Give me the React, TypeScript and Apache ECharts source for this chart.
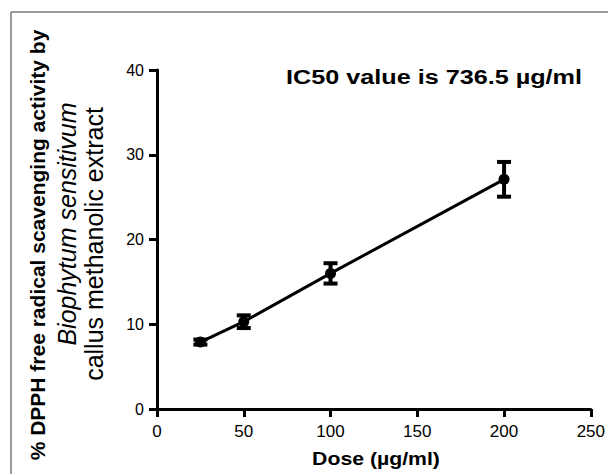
import React, { useEffect, useRef } from "react";
import * as echarts from "echarts";

const doses = [25, 50, 100, 200];
const activity = [7.9, 10.3, 16.0, 27.1];
const errors = [0.3, 0.75, 1.2, 2.05];
const xTicks = [0, 50, 100, 150, 200, 250];
const yTicks = [0, 10, 20, 30, 40];

const FONT = "Liberation Sans, Arial, Helvetica, sans-serif";

export default function App() {
  const ref = useRef<HTMLDivElement>(null);
  useEffect(() => {
    if (!ref.current) return;
    const chart = echarts.init(ref.current, undefined, { renderer: "svg" });
    const points = doses.map((d, i) => [d, activity[i]]);
    const errData = doses.map((d, i) => [d, activity[i] - errors[i], activity[i] + errors[i]]);
    chart.setOption({
      animation: false,
      backgroundColor: "#ffffff",
      grid: { left: 157, right: 16, top: 70, bottom: 65 },
      xAxis: {
        type: "value",
        min: xTicks[0],
        max: xTicks[xTicks.length - 1],
        interval: 50,
        axisLine: { lineStyle: { color: "#000", width: 3 } },
        axisTick: { show: true, length: 8, lineStyle: { color: "#000", width: 3 } },
        axisLabel: { color: "#000", fontSize: 17, fontFamily: FONT, margin: 14 },
        splitLine: { show: false },
      },
      yAxis: {
        type: "value",
        min: yTicks[0],
        max: yTicks[yTicks.length - 1],
        interval: 10,
        axisLine: { show: true, lineStyle: { color: "#000", width: 3 } },
        axisTick: { show: true, length: 8, lineStyle: { color: "#000", width: 3 } },
        axisLabel: { color: "#000", fontSize: 16, fontFamily: FONT, margin: 13 },
        splitLine: { show: false },
      },
      series: [
        {
          type: "line",
          data: points,
          symbol: "circle",
          symbolSize: 11,
          itemStyle: { color: "#000" },
          lineStyle: { color: "#000", width: 3 },
          z: 3,
        },
        {
          type: "custom",
          data: errData,
          z: 4,
          renderItem: (params: any, api: any) => {
            const x = api.value(0);
            const lo = api.coord([x, api.value(1)]);
            const hi = api.coord([x, api.value(2)]);
            const hw = 7;
            const st = { stroke: "#000", lineWidth: 4 };
            return {
              type: "group",
              children: [
                { type: "line", shape: { x1: lo[0], y1: lo[1], x2: hi[0], y2: hi[1] }, style: st },
                { type: "line", shape: { x1: lo[0] - hw, y1: lo[1], x2: lo[0] + hw, y2: lo[1] }, style: st },
                { type: "line", shape: { x1: hi[0] - hw, y1: hi[1], x2: hi[0] + hw, y2: hi[1] }, style: st },
              ],
            };
          },
        },
      ],
      graphic: [
        { type: "line", shape: { x1: 11, y1: 12, x2: 608, y2: 12 }, style: { stroke: "#7a7a7a", lineWidth: 1.5 } },
        { type: "line", shape: { x1: 11, y1: 12, x2: 11, y2: 474 }, style: { stroke: "#7a7a7a", lineWidth: 1.5 } },
        {
          type: "text",
          x: 434,
          y: 77,
          scaleX: 1.2,
          style: {
            text: "IC50 value is 736.5 µg/ml",
            font: `bold 21px ${FONT}`,
            fill: "#000",
            align: "center",
            verticalAlign: "middle",
          },
        },
        {
          type: "text",
          x: 376,
          y: 459,
          scaleX: 1.18,
          style: {
            text: "Dose (µg/ml)",
            font: `bold 18px ${FONT}`,
            fill: "#000",
            align: "center",
            verticalAlign: "middle",
          },
        },
        {
          type: "text",
          x: 37,
          y: 245,
          rotation: Math.PI / 2,
          style: {
            text: "% DPPH free radical scavenging activity by",
            font: `bold 21px ${FONT}`,
            fill: "#000",
            align: "center",
            verticalAlign: "middle",
          },
        },
        {
          type: "text",
          x: 67,
          y: 224,
          rotation: Math.PI / 2,
          style: {
            text: "Biophytum sensitivum",
            font: `italic 25px ${FONT}`,
            fill: "#000",
            align: "center",
            verticalAlign: "middle",
          },
        },
        {
          type: "text",
          x: 94,
          y: 244,
          rotation: Math.PI / 2,
          style: {
            text: "callus methanolic extract",
            font: `25px ${FONT}`,
            fill: "#000",
            align: "center",
            verticalAlign: "middle",
          },
        },
      ],
    });
    return () => chart.dispose();
  }, []);
  return (
    <div
      ref={ref}
      style={{ position: "fixed", left: 0, top: 0, width: 608, height: 474 }}
    />
  );
}
